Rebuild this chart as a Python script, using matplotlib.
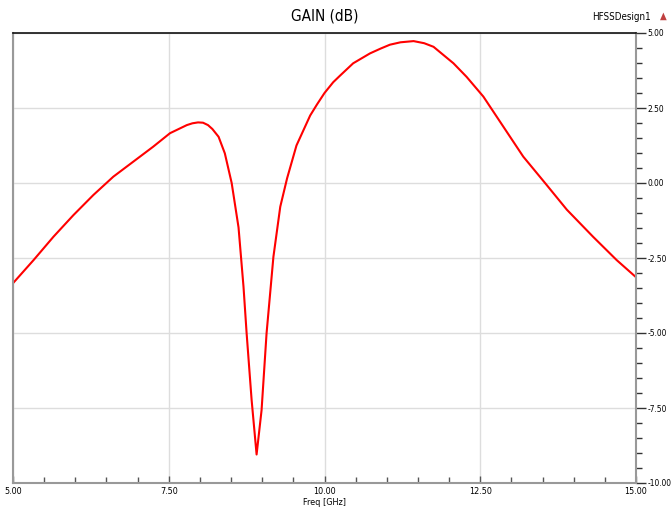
import numpy as np
import matplotlib.pyplot as plt

plt.rcParams['font.family'] = ['DejaVu Sans']
plt.rcParams['font.stretch'] = 'condensed'

# values
freq = [5.00, 5.33, 5.65, 5.97, 6.29, 6.61, 6.93, 7.25, 7.52, 7.79, 7.88, 7.97, 8.05,
        8.13, 8.20, 8.30, 8.40, 8.51, 8.62, 8.70, 8.75, 8.83, 8.91, 8.99, 9.07, 9.18,
        9.29, 9.40, 9.55, 9.77, 9.88, 10.00, 10.14, 10.25, 10.46, 10.73, 10.90, 11.05,
        11.22, 11.43, 11.60, 11.75, 12.07, 12.28, 12.55, 12.87, 13.19, 13.54, 13.89,
        14.31, 14.69, 15.00]
gain = [-3.34, -2.57, -1.79, -1.07, -0.40, 0.21, 0.71, 1.21, 1.66, 1.93, 1.99, 2.02, 2.01,
        1.93, 1.80, 1.54, 0.99, 0.00, -1.48, -3.46, -5.01, -7.23, -9.05, -7.57, -5.01, -2.46,
        -0.79, 0.16, 1.25, 2.25, 2.62, 3.00, 3.36, 3.58, 3.99, 4.32, 4.48, 4.61,
        4.69, 4.73, 4.66, 4.54, 3.99, 3.54, 2.88, 1.88, 0.88, 0.00, -0.89,
        -1.79, -2.57, -3.14]

xticks = [5.0, 7.5, 10.0, 12.5, 15.0]
yticks = [5.0, 2.5, 0.0, -2.5, -5.0, -7.5, -10.0]

W, H = 671, 516
fig = plt.figure(figsize=(W / 100, H / 100), dpi=100)
ax = fig.add_axes([13 / W, (H - 483) / H, 623 / W, 450 / H])

ax.plot(freq, gain, color='#ff0000', lw=1.5)

ax.set_xlim(5, 15)
ax.set_ylim(-10, 5)
ax.set_xticks(xticks)
ax.set_xticklabels(['%.2f' % v for v in xticks])
ax.set_xticks(np.arange(5, 15.01, 0.5), minor=True)
ax.set_yticks(yticks)
ax.set_yticklabels(['%.2f' % v for v in yticks])
ax.set_yticks(np.arange(-10, 5.01, 0.5), minor=True)

ax.yaxis.tick_right()
ax.tick_params(axis='y', which='major', direction='out', length=7, width=1, color='#333333',
               labelsize=6, pad=1.5)
ax.tick_params(axis='y', which='minor', direction='out', length=4, width=1, color='#333333')
ax.tick_params(axis='x', which='major', direction='in', length=5, width=1, color='#555555',
               labelsize=6.5, pad=3)
ax.tick_params(axis='x', which='minor', direction='in', length=4, width=1, color='#555555')

ax.grid(True, which='major', color='#dddddd', lw=1)
ax.set_axisbelow(True)

ax.spines['top'].set_color('#111111')
ax.spines['top'].set_linewidth(1.2)
for s in ['left', 'right', 'bottom']:
    ax.spines[s].set_color('#999999')
    ax.spines[s].set_linewidth(1.5)

ax.set_xlabel('Freq [GHz]', fontsize=6.5, labelpad=1)
fig.text(0.5 * (13 + 636) / W, 1 - 16 / H, 'GAIN (dB)', ha='center', va='center', fontsize=11)
fig.text(651 / W, 1 - 17 / H, 'HFSSDesign1', ha='right', va='center', fontsize=7)
fig.text(663 / W, 1 - 16 / H, '\u25b2', ha='center', va='center', fontsize=7,
         color='#c04040')

fig.savefig('out.png', dpi=100)
